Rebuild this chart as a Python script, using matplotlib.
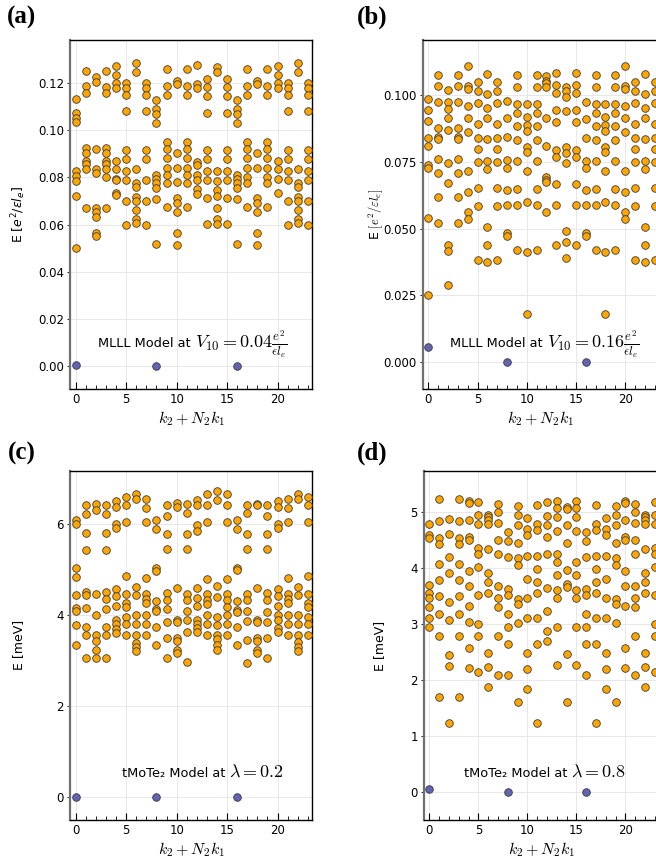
import matplotlib
matplotlib.use("Agg")
import matplotlib.pyplot as plt
from matplotlib.ticker import MultipleLocator

# ---------------- data ----------------
k_values = list(range(24))
gs_k = [0, 8, 16]

# (a) MLLL V10 = 0.04
E_a = [
    [0.1133, 0.1072, 0.1054, 0.1035, 0.0827, 0.0806, 0.0783, 0.0722, 0.0500],
    [0.1252, 0.1189, 0.1160, 0.0925, 0.0902, 0.0871, 0.0857, 0.0837, 0.0672],
    [0.1226, 0.1207, 0.0922, 0.0834, 0.0820, 0.0672, 0.0655, 0.0633, 0.0565, 0.0553],
    [0.1252, 0.1186, 0.1160, 0.0925, 0.0902, 0.0871, 0.0857, 0.0836, 0.0803, 0.0672],
    [0.1274, 0.1237, 0.1200, 0.1182, 0.0871, 0.0837, 0.0794, 0.0789, 0.0732, 0.0726],
    [0.1200, 0.1179, 0.1150, 0.1081, 0.0915, 0.0878, 0.0827, 0.0787, 0.0701, 0.0600],
    [0.1285, 0.1250, 0.0837, 0.0777, 0.0758, 0.0718, 0.0701, 0.0661, 0.0624, 0.0606],
    [0.1200, 0.1179, 0.1150, 0.1081, 0.0915, 0.0878, 0.0789, 0.0701, 0.0600],
    [0.1129, 0.1089, 0.1070, 0.1033, 0.0810, 0.0792, 0.0775, 0.0755, 0.0709, 0.0519],
    [0.1260, 0.1190, 0.1150, 0.0952, 0.0921, 0.0884, 0.0838, 0.0810, 0.0777, 0.0675],
    [0.1211, 0.1199, 0.0902, 0.0838, 0.0780, 0.0712, 0.0692, 0.0651, 0.0563, 0.0514],
    [0.1260, 0.1190, 0.1150, 0.0952, 0.0921, 0.0884, 0.0838, 0.0810, 0.0777, 0.0675],
    [0.1278, 0.1197, 0.1179, 0.0865, 0.0851, 0.0811, 0.0789, 0.0749, 0.0729],
    [0.1218, 0.1186, 0.1145, 0.1072, 0.0916, 0.0878, 0.0827, 0.0789, 0.0711, 0.0604],
    [0.1268, 0.1247, 0.0827, 0.0786, 0.0746, 0.0721, 0.0672, 0.0624, 0.0604],
    [0.1218, 0.1186, 0.1145, 0.1072, 0.0916, 0.0878, 0.0827, 0.0789, 0.0711, 0.0604],
    [0.1129, 0.1089, 0.1070, 0.1033, 0.0810, 0.0792, 0.0775, 0.0755, 0.0709, 0.0519],
    [0.1260, 0.1190, 0.1150, 0.0952, 0.0921, 0.0884, 0.0838, 0.0803, 0.0777, 0.0675],
    [0.1211, 0.1199, 0.0902, 0.0838, 0.0712, 0.0692, 0.0651, 0.0563, 0.0514],
    [0.1260, 0.1190, 0.1150, 0.0952, 0.0921, 0.0884, 0.0838, 0.0803, 0.0777, 0.0675],
    [0.1274, 0.1237, 0.1200, 0.1182, 0.0871, 0.0837, 0.0794, 0.0732],
    [0.1200, 0.1179, 0.1150, 0.1081, 0.0915, 0.0878, 0.0827, 0.0787, 0.0701, 0.0600],
    [0.1285, 0.1250, 0.0837, 0.0777, 0.0758, 0.0718, 0.0701, 0.0661, 0.0624, 0.0606],
    [0.1200, 0.1179, 0.1150, 0.1081, 0.0915, 0.0878, 0.0827, 0.0787, 0.0701, 0.0600],
]
gs_a = [0.0004, 0.0, 0.0]

# (b) MLLL V10 = 0.16
E_b = [
    [0.0985, 0.0943, 0.0904, 0.0840, 0.0811, 0.0739, 0.0726, 0.0539, 0.0250],
    [0.1075, 0.1035, 0.0974, 0.0878, 0.0844, 0.0834, 0.0760, 0.0710, 0.0618, 0.0520],
    [0.1020, 0.0973, 0.0949, 0.0914, 0.0868, 0.0744, 0.0671, 0.0440, 0.0418, 0.0291],
    [0.1075, 0.1035, 0.0974, 0.0878, 0.0844, 0.0834, 0.0760, 0.0710, 0.0618, 0.0520],
    [0.1108, 0.1035, 0.1024, 0.0960, 0.0914, 0.0860, 0.0715, 0.0638, 0.0563, 0.0538],
    [0.1050, 0.1015, 0.0971, 0.0893, 0.0838, 0.0799, 0.0749, 0.0654, 0.0583, 0.0384],
    [0.1079, 0.1005, 0.0950, 0.0914, 0.0835, 0.0754, 0.0724, 0.0508, 0.0437, 0.0375],
    [0.1050, 0.1015, 0.0971, 0.0893, 0.0838, 0.0799, 0.0749, 0.0654, 0.0583, 0.0384],
    [0.0979, 0.0913, 0.0844, 0.0756, 0.0726, 0.0644, 0.0590, 0.0484, 0.0471],
    [0.1075, 0.1031, 0.0965, 0.0934, 0.0886, 0.0833, 0.0754, 0.0648, 0.0590, 0.0421],
    [0.0965, 0.0919, 0.0888, 0.0866, 0.0806, 0.0786, 0.0715, 0.0598, 0.0414, 0.0179],
    [0.1075, 0.1031, 0.0965, 0.0934, 0.0886, 0.0833, 0.0754, 0.0648, 0.0590, 0.0421],
    [0.1071, 0.1054, 0.1044, 0.1029, 0.0915, 0.0811, 0.0694, 0.0681, 0.0674, 0.0561],
    [0.1081, 0.1038, 0.1009, 0.0944, 0.0901, 0.0796, 0.0770, 0.0666, 0.0588, 0.0437],
    [0.1031, 0.1015, 0.0994, 0.0939, 0.0804, 0.0784, 0.0744, 0.0491, 0.0449, 0.0392],
    [0.1081, 0.1038, 0.1009, 0.0944, 0.0901, 0.0796, 0.0770, 0.0666, 0.0588, 0.0437],
    [0.0975, 0.0909, 0.0841, 0.0754, 0.0726, 0.0644, 0.0590, 0.0484, 0.0471],
    [0.1075, 0.1031, 0.0965, 0.0934, 0.0886, 0.0833, 0.0754, 0.0648, 0.0590, 0.0421],
    [0.0965, 0.0919, 0.0888, 0.0866, 0.0806, 0.0786, 0.0715, 0.0598, 0.0414, 0.0179],
    [0.1075, 0.1031, 0.0965, 0.0934, 0.0886, 0.0833, 0.0754, 0.0648, 0.0590, 0.0421],
    [0.1108, 0.1035, 0.1024, 0.0960, 0.0914, 0.0860, 0.0715, 0.0638, 0.0563, 0.0538],
    [0.1050, 0.1015, 0.0971, 0.0893, 0.0838, 0.0799, 0.0749, 0.0654, 0.0583, 0.0384],
    [0.1079, 0.1005, 0.0950, 0.0914, 0.0835, 0.0754, 0.0724, 0.0508, 0.0437, 0.0375],
    [0.1050, 0.1015, 0.0971, 0.0893, 0.0838, 0.0799, 0.0749, 0.0654, 0.0583, 0.0384],
]
gs_b = [0.0056, 0.0, 0.0]

# (c) tMoTe2 lambda = 0.2  [meV]
E_c = [
    [6.08, 6.00, 5.03, 4.83, 4.44, 4.15, 4.08, 3.79, 3.33],
    [6.41, 6.22, 5.79, 5.43, 4.51, 4.44, 4.15, 3.74, 3.55, 3.06],
    [6.43, 6.30, 4.46, 3.99, 3.56, 3.42, 3.24, 3.06],
    [6.41, 6.22, 5.79, 5.43, 4.51, 4.35, 4.14, 3.74, 3.55, 3.06],
    [6.50, 6.37, 5.99, 5.90, 4.58, 4.41, 4.20, 3.88, 3.81, 3.70, 3.61],
    [6.59, 6.41, 6.04, 4.86, 4.45, 4.26, 4.18, 3.96, 3.81, 3.55],
    [6.66, 6.54, 4.62, 4.44, 3.99, 3.81, 3.57, 3.39, 3.29, 3.20],
    [6.55, 6.34, 6.04, 4.82, 4.47, 4.35, 4.26, 3.99, 3.81, 3.55],
    [6.08, 5.89, 5.03, 4.97, 4.30, 4.14, 4.08, 3.73, 3.34],
    [6.41, 6.18, 5.78, 5.45, 4.49, 4.32, 4.13, 3.85, 3.49, 3.05],
    [6.46, 6.37, 4.60, 3.88, 3.85, 3.49, 3.42, 3.22, 3.17],
    [6.43, 6.24, 5.78, 5.45, 4.47, 4.32, 4.08, 3.90, 3.62, 2.96],
    [6.52, 6.41, 5.97, 5.84, 4.60, 4.38, 4.19, 3.88, 3.81, 3.71, 3.62],
    [6.65, 6.41, 6.04, 4.78, 4.47, 4.32, 4.25, 3.99, 3.81, 3.57],
    [6.72, 6.52, 4.63, 4.40, 3.96, 3.79, 3.57, 3.48, 3.33, 3.22],
    [6.65, 6.41, 6.04, 4.78, 4.47, 4.32, 4.18, 3.99, 3.81, 3.57],
    [6.08, 5.89, 5.03, 4.98, 4.30, 4.11, 4.07, 3.73, 3.34],
    [6.41, 6.24, 5.78, 5.45, 4.47, 4.32, 4.08, 3.86, 3.46, 2.94],
    [6.44, 6.41, 4.60, 3.88, 3.85, 3.49, 3.42, 3.22, 3.17],
    [6.41, 6.18, 5.78, 5.45, 4.49, 4.32, 4.07, 3.85, 3.49, 3.05],
    [6.50, 6.37, 5.99, 5.90, 4.58, 4.41, 4.20, 3.99, 3.88, 3.71, 3.62],
    [6.55, 6.34, 6.04, 4.82, 4.47, 4.34, 4.26, 3.99, 3.81, 3.55],
    [6.65, 6.54, 4.62, 4.44, 3.99, 3.81, 3.57, 3.40, 3.29, 3.20],
    [6.59, 6.41, 6.04, 4.86, 4.45, 4.26, 4.18, 3.96, 3.81, 3.55],
]
gs_c = [0.0, 0.0, 0.0]

# (d) tMoTe2 lambda = 0.8  [meV]
E_d = [
    [4.79, 4.58, 4.53, 3.69, 3.55, 3.46, 3.30, 3.10, 2.95],
    [5.23, 4.83, 4.53, 4.42, 4.06, 3.78, 3.50, 3.18, 2.79, 1.70],
    [4.87, 4.60, 4.20, 3.90, 3.40, 3.07, 2.44, 2.25, 1.23],
    [5.23, 4.83, 4.53, 4.42, 4.06, 3.78, 3.50, 3.18, 2.79, 1.70],
    [5.19, 5.15, 4.85, 4.55, 4.50, 3.95, 3.68, 3.32, 3.04, 2.58, 2.21],
    [5.17, 4.94, 4.79, 4.36, 4.24, 4.02, 3.51, 3.00, 2.79, 2.15],
    [4.95, 4.91, 4.85, 4.79, 4.33, 3.90, 3.75, 3.56, 2.49, 2.23, 1.87],
    [5.13, 5.00, 4.80, 4.50, 4.25, 3.68, 3.46, 3.30, 2.79, 2.10],
    [4.64, 4.47, 4.19, 3.62, 3.51, 3.17, 2.95, 2.64, 2.09],
    [5.11, 4.94, 4.76, 4.45, 4.17, 4.05, 3.45, 3.36, 3.01, 1.61],
    [4.89, 4.69, 4.58, 4.21, 3.80, 3.47, 3.10, 2.48, 2.20, 1.84],
    [5.12, 4.79, 4.67, 4.21, 3.98, 3.75, 3.56, 3.11, 2.65, 1.23],
    [5.18, 4.92, 4.76, 4.55, 4.25, 3.65, 3.23, 2.88, 2.69],
    [5.19, 5.06, 4.90, 4.66, 4.25, 4.11, 3.88, 3.61, 3.46, 2.94, 2.27],
    [5.08, 5.05, 4.77, 4.45, 3.96, 3.72, 3.66, 2.46, 1.61],
    [5.19, 5.06, 4.90, 4.66, 4.11, 3.88, 3.61, 3.46, 2.94, 2.27],
    [4.64, 4.47, 4.19, 3.62, 3.51, 3.17, 2.95, 2.64, 2.10],
    [5.12, 4.79, 4.67, 4.21, 3.98, 3.75, 3.56, 3.11, 2.65, 1.23],
    [4.89, 4.69, 4.58, 4.21, 3.80, 3.47, 3.10, 2.48, 2.20, 1.84],
    [5.11, 4.94, 4.76, 4.45, 4.17, 4.05, 3.45, 3.36, 3.01, 1.61],
    [5.19, 5.15, 4.85, 4.55, 4.50, 3.95, 3.68, 3.32, 2.58, 2.21],
    [5.13, 5.00, 4.80, 4.50, 4.25, 3.68, 3.46, 3.30, 2.79, 2.10],
    [4.95, 4.91, 4.85, 4.79, 4.33, 3.90, 3.75, 3.56, 2.49, 2.23, 1.87],
    [5.17, 4.94, 4.79, 4.36, 4.24, 4.02, 3.51, 3.00, 2.79, 2.15],
]
gs_d = [0.07, 0.0, 0.0]

panel_labels = ["(a)", "(b)", "(c)", "(d)"]
note_texts = ["MLLL Model at", "MLLL Model at", "tMoTe₂ Model at", "tMoTe₂ Model at"]
note_maths = [r"$V_{10} = 0.04\frac{e^2}{\epsilon l_e}$",
              r"$V_{10} = 0.16\frac{e^2}{\epsilon l_e}$",
              r"$\lambda = 0.2$",
              r"$\lambda = 0.8$"]

# ---------------- figure ----------------
W, H = 656, 863
fig = plt.figure(figsize=(W / 100, H / 100), dpi=100)

def px_axes(left, top, width, height):
    return fig.add_axes([left / W, 1 - (top + height) / H, width / W, height / H])

ORANGE = "#FFA500"
BLUE = "#6363B4"

specs = [
    # data, gs, left, top, width, height, ylim, yticks, fmt, ylabel, mathfam, (split_x, baseline_y)
    (E_a, gs_a, 70.2, 40, 242.2, 349, (-0.0099, 0.1384), [0, 0.02, 0.04, 0.06, 0.08, 0.10, 0.12], "{:.2f}",
     r"E $[e^2/\varepsilon l_e]$", "dejavusans", (193, 347)),
    (E_b, gs_b, 422.9, 40, 236.2, 349, (-0.0100, 0.1206), [0, 0.025, 0.05, 0.075, 0.10], "{:.3f}",
     r"E $[e^2/\varepsilon l_e]$", "cm", (545, 347)),
    (E_c, gs_c, 70.2, 471, 242.2, 348.5, (-0.49, 7.16), [0, 2, 4, 6], "{:d}",
     "E [meV]", "cm", (227, 777)),
    (E_d, gs_d, 424.0, 471, 235.2, 349, (-0.49, 5.725), [0, 1, 2, 3, 4, 5], "{:d}",
     "E [meV]", "cm", (569, 777)),
]

label_pos = [(22, 17), (372, 17), (22, 453), (372, 453)]
ylabel_x = [19, 376, 19, 380]

for i, (E, gs, l, t, w, h, ylim, yt, fmt, ylab, mfam, npos) in enumerate(specs):
    ax = px_axes(l, t, w, h)
    ax.set_xlim(-0.55, 23.45)
    ax.set_ylim(*ylim)
    ax.grid(True, color="#e8e8e8", linewidth=0.7, zorder=0)
    ax.set_axisbelow(True)
    for k, col in zip(k_values, E):
        ax.scatter([k] * len(col), col, s=30, facecolor=ORANGE, edgecolor="#3a3a3a",
                   linewidth=0.6, zorder=3, clip_on=True)
    ax.scatter(gs_k, gs, s=30, facecolor=BLUE, edgecolor="#3a3a3a", linewidth=0.6, zorder=4)

    ax.xaxis.set_major_locator(MultipleLocator(5))
    ax.xaxis.set_minor_locator(MultipleLocator(1))
    ax.set_yticks(yt)
    if fmt == "{:d}":
        ax.set_yticklabels([fmt.format(int(v)) for v in yt])
    else:
        ax.set_yticklabels([fmt.format(v) for v in yt])
    ax.tick_params(axis="x", which="major", direction="in", length=5, width=0.8,
                   labelsize=8.5, pad=3, color="black")
    ax.tick_params(axis="x", which="minor", direction="in", length=3, width=0.6, color="black")
    ax.tick_params(axis="y", which="major", direction="out", length=2.5, width=0.6,
                   labelsize=8.5, pad=2)
    for sp in ["top", "right", "bottom"]:
        ax.spines[sp].set_linewidth(1.0)
        ax.spines[sp].set_color("black")
    ax.spines["left"].set_linewidth(1.6)
    ax.spines["left"].set_color("#707070")

    ax.set_xlabel(r"$k_2 + N_2 k_1$", fontsize=11.5, labelpad=2.5, math_fontfamily="cm")

    yl = fig.text(ylabel_x[i] / W, 1 - (t + h / 2) / H, ylab, rotation=90, ha="center",
                  va="center", fontsize=9)
    yl.set_math_fontfamily(mfam)

    sx, by = npos
    fig.text((sx - 2) / W, 1 - by / H, note_texts[i], ha="right", va="baseline", fontsize=9.3)
    fig.text((sx + 2) / W, 1 - by / H, note_maths[i], ha="left", va="baseline", fontsize=13,
             math_fontfamily="cm")

    lx, ly = label_pos[i]
    fig.text(lx / W, 1 - ly / H, panel_labels[i], ha="center", va="center",
             fontsize=18, fontweight="bold", family="Liberation Serif")

fig.savefig("out.png", dpi=100)
